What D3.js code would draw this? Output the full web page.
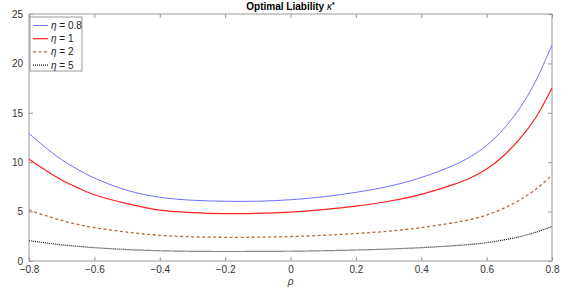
<!DOCTYPE html>
<html>
<head>
<meta charset="utf-8">
<script src="https://cdn.jsdelivr.net/npm/d3@7"></script>
<style>
  body { margin: 0; background: #fff; }
  text { font-family: "Liberation Sans", Arial, sans-serif; }
</style>
</head>
<body>
<div class="chart"></div>
<script>
var svgWidth = 581;
var svgHeight = 291;

var margin = { top: 14, right: 29, bottom: 30, left: 29 };
var width = svgWidth - margin.left - margin.right;
var height = svgHeight - margin.top - margin.bottom;

// rho grid
var rho = [-0.8, -0.75, -0.7, -0.65, -0.6, -0.5, -0.4, -0.3, -0.2, -0.1, 0, 0.1, 0.2, 0.3, 0.4, 0.5, 0.55, 0.6, 0.65, 0.7, 0.75, 0.8];

// optimal liability
var eta08 = [12.9, 11.5, 10.25, 9.25, 8.4, 7.15, 6.45, 6.15, 6.05, 6.05, 6.2, 6.5, 6.95, 7.55, 8.45, 9.7, 10.55, 11.7, 13.3, 15.4, 18.2, 21.9];
var eta1 = [10.3, 9.2, 8.2, 7.4, 6.7, 5.8, 5.15, 4.9, 4.8, 4.82, 4.95, 5.2, 5.55, 6.05, 6.75, 7.75, 8.4, 9.3, 10.6, 12.3, 14.5, 17.5];
var eta2 = [5.15, 4.6, 4.1, 3.7, 3.38, 2.92, 2.6, 2.45, 2.4, 2.41, 2.48, 2.6, 2.78, 3.02, 3.38, 3.88, 4.2, 4.65, 5.3, 6.15, 7.25, 8.7];
var eta5 = [2.06, 1.84, 1.64, 1.48, 1.35, 1.16, 1.04, 0.98, 0.96, 0.97, 0.99, 1.04, 1.11, 1.21, 1.35, 1.55, 1.68, 1.85, 2.12, 2.45, 2.9, 3.5];

var xTicks = [-0.8, -0.6, -0.4, -0.2, 0, 0.2, 0.4, 0.6, 0.8];
var yTicks = [0, 5, 10, 15, 20, 25];
var labels = ["0.8", "1", "2", "5"];

var series = [
  { name: labels[0], values: eta08, color: "#6f6fff", width: 1, dash: null },
  { name: labels[1], values: eta1, color: "#ff2020", width: 1.2, dash: null },
  { name: labels[2], values: eta2, color: "#b8683a", width: 1.3, dash: "3,2.5" },
  { name: labels[3], values: eta5, color: "#111", width: 1.2, dash: "1,1" }
];

var svg = d3.select(".chart")
  .append("svg")
  .attr("width", svgWidth)
  .attr("height", svgHeight);

var chartGroup = svg.append("g")
  .attr("transform", `translate(${margin.left}, ${margin.top})`);

var xScale = d3.scaleLinear().domain([-0.8, 0.8]).range([0, width]);
var yScale = d3.scaleLinear().domain([0, 25]).range([height, 0]);

var axisColor = "#9a9a9a";

// axes with ticks pointing inward
function styleAxis(g) {
  g.select(".domain").remove();
  g.selectAll(".tick line").attr("stroke", axisColor);
  g.selectAll(".tick text")
    .attr("fill", "#333")
    .style("font-size", "10px");
}

chartGroup.append("g")
  .attr("transform", `translate(0, ${height})`)
  .call(d3.axisBottom(xScale).tickValues(xTicks).tickSize(-4).tickPadding(5)
    .tickFormat(d => d === 0 ? "0" : d3.format(".1f")(d)))
  .call(styleAxis);

chartGroup.append("g")
  .call(d3.axisTop(xScale).tickValues(xTicks).tickSize(-4).tickFormat(""))
  .call(styleAxis);

chartGroup.append("g")
  .call(d3.axisLeft(yScale).tickValues(yTicks).tickSize(-4).tickPadding(6))
  .call(styleAxis);

chartGroup.append("g")
  .attr("transform", `translate(${width}, 0)`)
  .call(d3.axisRight(yScale).tickValues(yTicks).tickSize(-4).tickFormat(""))
  .call(styleAxis);

chartGroup.append("rect")
  .attr("x", 0).attr("y", 0)
  .attr("width", width).attr("height", height)
  .attr("fill", "none")
  .attr("stroke", axisColor)
  .attr("stroke-width", 1);

var line = d3.line()
  .x((d, i) => xScale(rho[i]))
  .y(d => yScale(d))
  .curve(d3.curveCatmullRom);

series.forEach(function(s) {
  chartGroup.append("path")
    .datum(s.values)
    .attr("fill", "none")
    .attr("stroke", s.color)
    .attr("stroke-width", s.width)
    .attr("stroke-dasharray", s.dash)
    .attr("d", line);
});

// title
svg.append("text")
  .attr("x", margin.left + width / 2)
  .attr("y", 10)
  .attr("text-anchor", "middle")
  .style("font-size", "10px")
  .style("font-weight", "bold")
  .html('Optimal Liability <tspan font-style="italic" font-weight="normal">κ</tspan><tspan dy="-3" font-size="7px">*</tspan>');

// x label
svg.append("text")
  .attr("x", margin.left + width / 2)
  .attr("y", 285)
  .attr("text-anchor", "middle")
  .style("font-size", "10px")
  .style("font-style", "italic")
  .attr("fill", "#333")
  .text("ρ");

// legend
var legend = chartGroup.append("g").attr("transform", "translate(1, 3)");
legend.append("rect")
  .attr("x", 0).attr("y", 0)
  .attr("width", 52).attr("height", 54)
  .attr("fill", "#fff")
  .attr("stroke", axisColor);

series.forEach(function(s, i) {
  var yy = 8.5 + i * 13.2;
  legend.append("line")
    .attr("x1", 3).attr("x2", 18)
    .attr("y1", yy).attr("y2", yy)
    .attr("stroke", s.color)
    .attr("stroke-width", s.width)
    .attr("stroke-dasharray", s.dash);
  legend.append("text")
    .attr("x", 21)
    .attr("y", yy + 3.5)
    .style("font-size", "10px")
    .attr("fill", "#222")
    .html('<tspan font-style="italic">η</tspan> = ' + s.name);
});
</script>
</body>
</html>
